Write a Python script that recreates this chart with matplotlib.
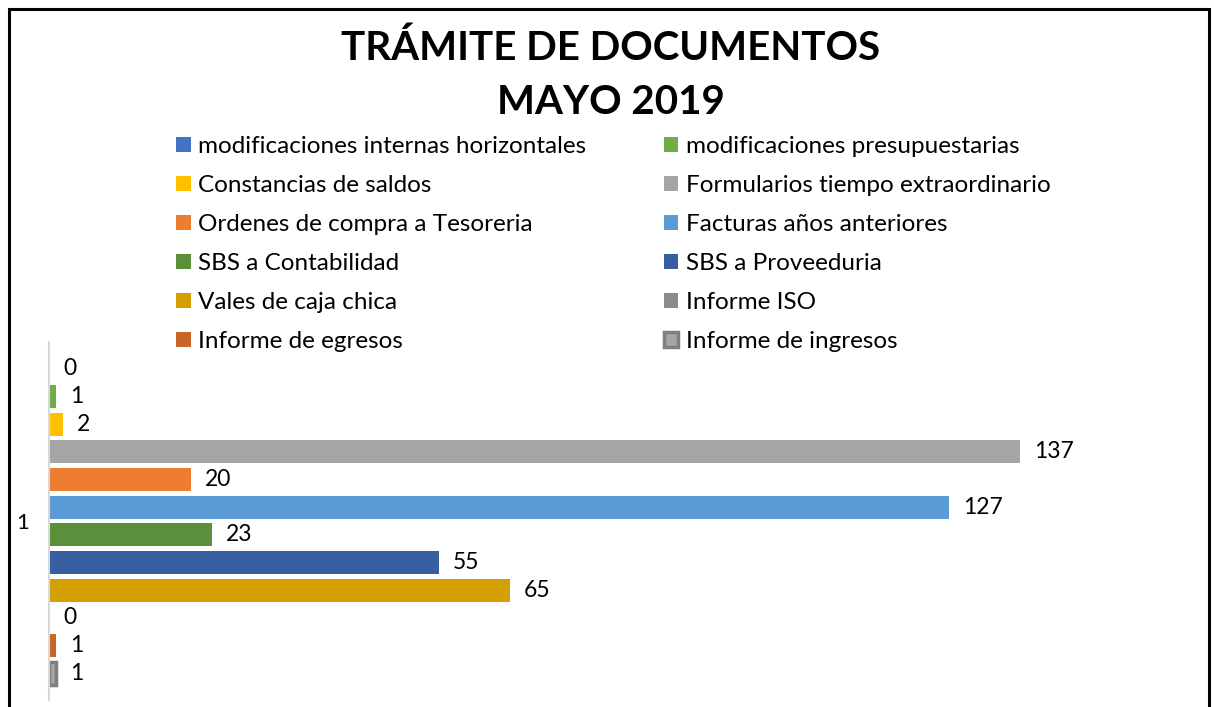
import matplotlib.pyplot as plt
from matplotlib.patches import Rectangle

# data
series = ["modificaciones internas horizontales", "modificaciones presupuestarias",
          "Constancias de saldos", "Formularios tiempo extraordinario",
          "Ordenes de compra a Tesoreria", "Facturas años anteriores",
          "SBS a Contabilidad", "SBS a Proveeduria",
          "Vales de caja chica", "Informe ISO",
          "Informe de egresos", "Informe de ingresos"]
values = [0, 1, 2, 137, 20, 127, 23, 55, 65, 0, 1, 1]
colors = ["#4472C4", "#70AD47", "#FFC000", "#A5A5A5", "#ED7D31", "#5B9BD5",
          "#5A8F3B", "#365EA1", "#D4A000", "#8C8C8C", "#C8662A", "#A6A6A6"]
category = "1"

plt.rcParams['font.family'] = ['Lato', 'DejaVu Sans']

fig = plt.figure(figsize=(12.14, 7.07), dpi=100)
ax = fig.add_axes([49/1214, 7/707, 1141/1214, 358/707])

n = len(values)
pos = list(range(n))
handles = []
for i in range(n):
    if i == n - 1:
        b = ax.barh(pos[i], values[i], height=0.83, color=colors[i],
                    edgecolor="#7F7F7F", linewidth=2.5, label=series[i])
    else:
        b = ax.barh(pos[i], values[i], height=0.83, color=colors[i], label=series[i])
    handles.append(b)
    ax.annotate(str(values[i]), (values[i], pos[i]), xytext=(10, 0),
                textcoords="offset points", va="center", ha="left", fontsize=16.5)

ax.set_xlim(0, 161)
ax.set_ylim(n - 1 + 0.97, -0.97)
ax.set_xticks([])
ax.set_yticks([(n - 1) / 2])
ax.set_yticklabels([category], fontsize=16)
ax.tick_params(axis="y", length=0, pad=14)
for s in ["top", "right", "bottom"]:
    ax.spines[s].set_visible(False)
ax.spines["left"].set_color("#D9D9D9")
ax.spines["left"].set_linewidth(1.5)

fig.text(0.503, 1 - 48/707, "TRÁMITE DE DOCUMENTOS", ha="center", va="center",
         fontsize=29, fontweight="bold")
fig.text(0.503, 1 - 103/707, "MAYO 2019", ha="center", va="center",
         fontsize=29, fontweight="bold")

# legend filled row by row like the original
order = list(range(0, n, 2)) + list(range(1, n, 2))
fig.legend([handles[i] for i in order], [series[i] for i in order], ncol=2,
           loc="upper left", bbox_to_anchor=(176/1214, 1 - 136/707),
           frameon=False, fontsize=17.5, handlelength=0.6, handleheight=0.6,
           handletextpad=0.3, columnspacing=3.2, labelspacing=0.74,
           borderaxespad=0, borderpad=0)

fig.patches.append(Rectangle((9/1214, -0.1), 1200/1214, 1.1 - 9/707,
                             transform=fig.transFigure, fill=False,
                             edgecolor="black", linewidth=2.2))

fig.savefig("out.png", dpi=100)
